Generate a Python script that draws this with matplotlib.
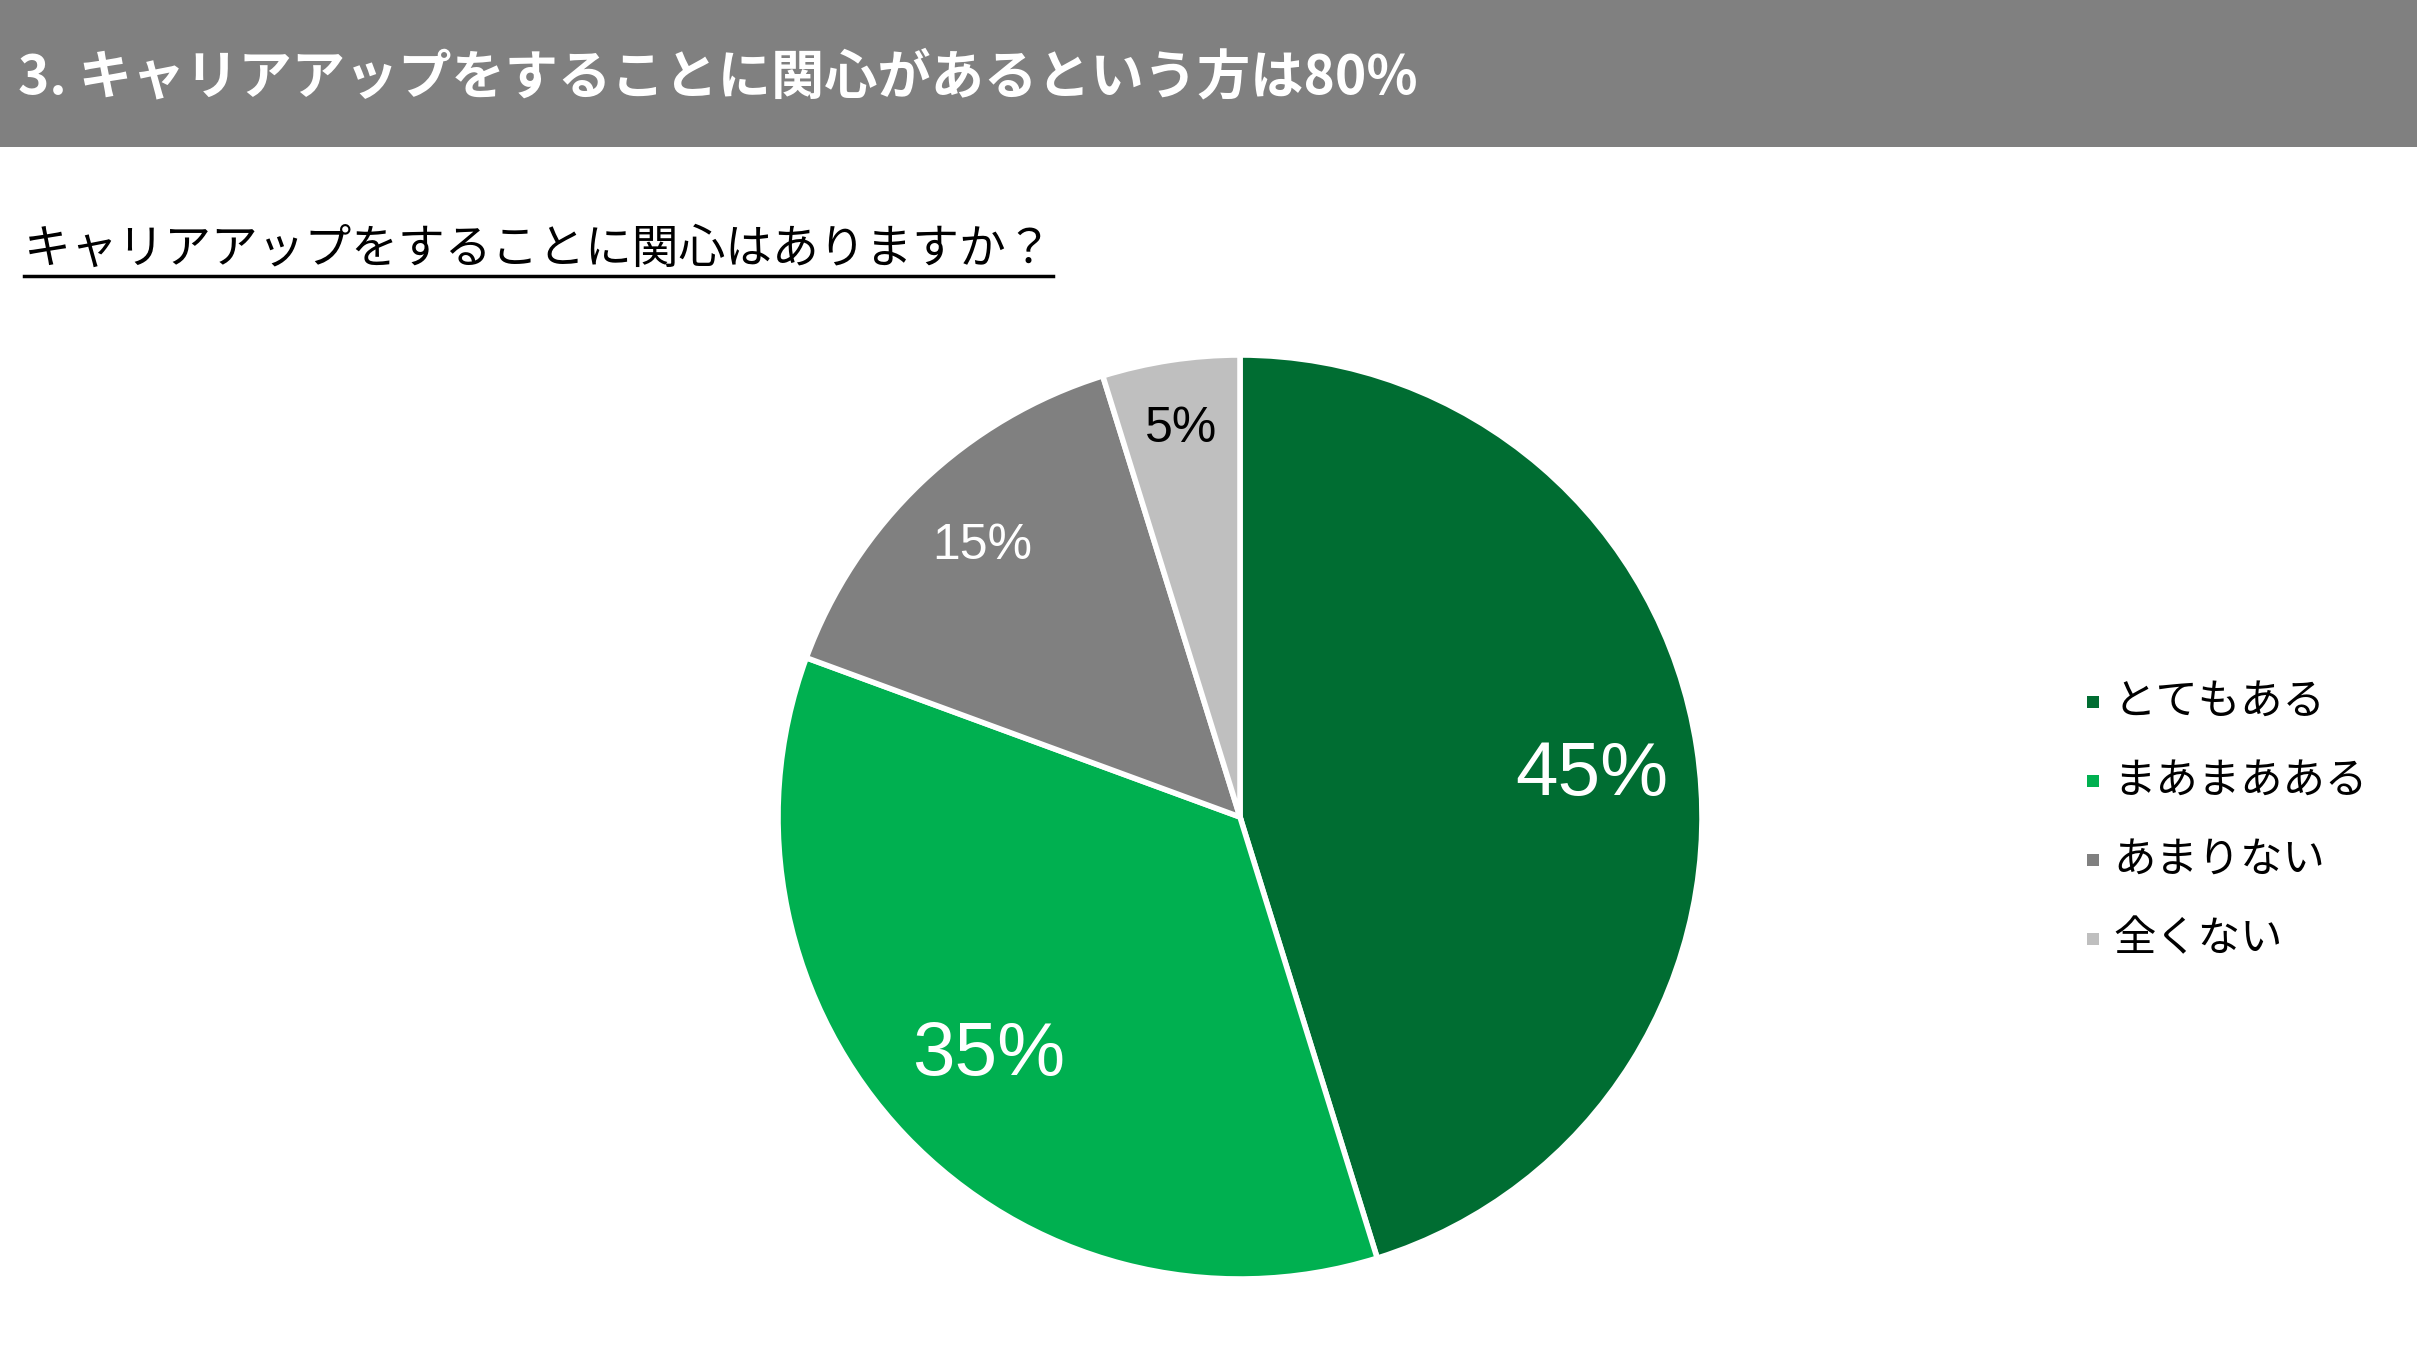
import matplotlib
matplotlib.use("Agg")
import matplotlib.pyplot as plt
from matplotlib.patches import Rectangle
import numpy as np

plt.rcParams["font.family"] = ["Noto Sans CJK JP", "DejaVu Sans"]

# data (shares, labels are rounded)
categories = ["とてもある", "まあまあある", "あまりない", "全くない"]
shares = [45.2, 35.4, 14.6, 4.8]
colors = ["#006D32", "#00B050", "#808080", "#BFBFBF"]
header_text = "3. キャリアアップをすることに関心があるという方は80%"
question_text = "キャリアアップをすることに関心はありますか？"

# label styling per slice
label_r = [0.77, 0.75, 0.81, 0.85]
label_dy = [-0.025, 0, 0, 0]
label_size = [55, 55, 36, 36]
label_color = ["white", "white", "white", "black"]

W, H = 2417, 1360
fig = plt.figure(figsize=(W / 100, H / 100), dpi=100)
fig.patch.set_facecolor("white")


def fx(px):
    return px / W


def fy(py):
    return 1 - py / H


# grey header band
fig.patches.append(Rectangle((0, fy(147)), 1, 147 / H, transform=fig.transFigure,
                             facecolor="#808080", edgecolor="none", zorder=0))
fig.text(fx(18), fy(78), header_text, color="white", fontsize=38.3,
         fontweight="bold", va="center", ha="left")

# question with underline
q = fig.text(fx(24), fy(250), question_text, color="black", fontsize=33.7,
             va="center", ha="left")
fig.canvas.draw()
bb = q.get_window_extent()
fig.add_artist(plt.Line2D([bb.x0 / W, bb.x1 / W], [fy(276), fy(276)],
                          transform=fig.transFigure, color="black", lw=2.5))

# pie
cx, cy, R = 1240, 817, 462
ax = fig.add_axes([fx(cx - R), fy(cy + R), 2 * R / W, 2 * R / H])
ax.pie(shares, colors=colors, startangle=90, counterclock=False, radius=1,
       wedgeprops=dict(edgecolor="white", linewidth=4))
ax.set_xlim(-1, 1)
ax.set_ylim(-1, 1)
ax.set_aspect("equal")
ax.axis("off")

cum = np.cumsum([0] + shares[:-1])
for i, v in enumerate(shares):
    mid = np.deg2rad(90 - (cum[i] + v / 2) * 3.6)
    ax.text(label_r[i] * np.cos(mid), label_r[i] * np.sin(mid) + label_dy[i],
            f"{round(v)}%", ha="center", va="center", fontsize=label_size[i],
            color=label_color[i],
            family=["Liberation Sans Narrow", "Liberation Sans", "DejaVu Sans"])

# legend
for i, name in enumerate(categories):
    y = 702 + i * 79
    fig.patches.append(Rectangle((fx(2087), fy(y + 6)), 12 / W, 12 / H,
                                 transform=fig.transFigure, facecolor=colors[i],
                                 edgecolor="none"))
    fig.text(fx(2113), fy(y), name, fontsize=30.5, va="center", ha="left",
             color="black")

fig.savefig("out.png", dpi=100)
